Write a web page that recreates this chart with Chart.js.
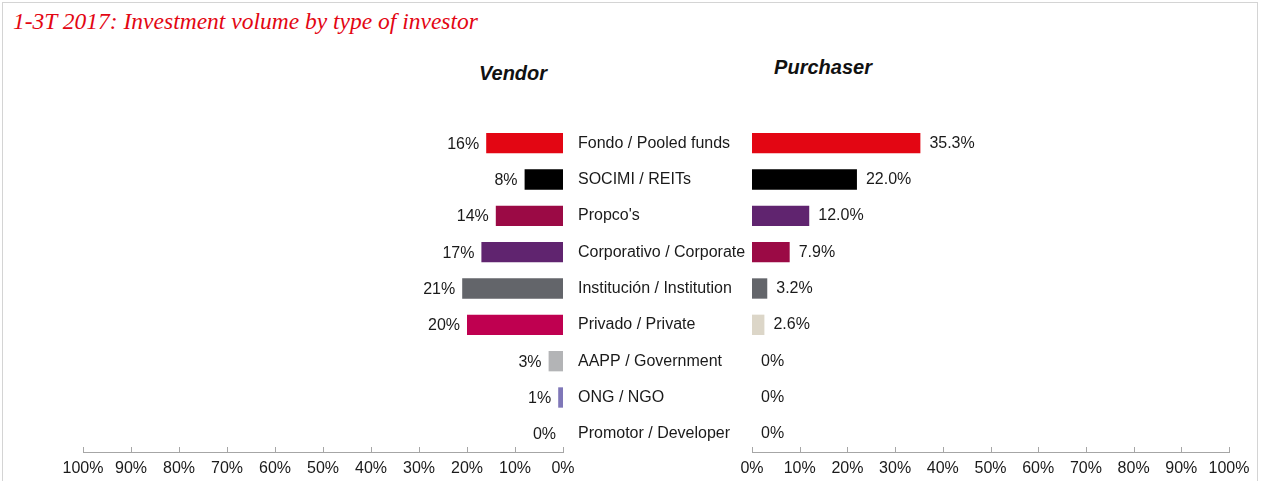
<!DOCTYPE html>
<html>
<head>
<meta charset="utf-8">
<script src="https://cdn.jsdelivr.net/npm/chart.js@4"></script>
<style>
  body { margin: 0; background: #fff; width: 1261px; height: 481px; overflow: hidden; position: relative; font-family: "Liberation Sans", Arial, sans-serif; }
  #frame { position: absolute; left: 2px; top: 2px; width: 1254px; height: 500px; border: 1px solid #d4d4d4; }
  #title { position: absolute; left: 13px; top: 10px; font-family: "Liberation Serif", "Times New Roman", serif; font-style: italic; font-size: 23.5px; color: #e30613; line-height: 1; }
  .side { position: absolute; font-weight: bold; font-style: italic; font-size: 20px; color: #111; line-height: 1; transform: translateX(-50%); }
  #leftWrap { position: absolute; left: 0; top: 0; width: 575px; height: 481px; }
  #rightWrap { position: absolute; left: 578px; top: 0; width: 683px; height: 481px; }
</style>
</head>
<body>
<div id="frame"></div>
<div id="title">1-3T 2017: Investment volume by type of investor</div>
<div class="side" style="left:513px; top:63px;">Vendor</div>
<div class="side" style="left:823px; top:57px;">Purchaser</div>
<div id="leftWrap"><canvas id="vendorChart"></canvas></div>
<div id="rightWrap"><canvas id="purchaserChart"></canvas></div>
<script>
// categories (shared by both sides)
const categories = ['Fondo / Pooled funds', 'SOCIMI / REITs', "Propco's", 'Corporativo / Corporate',
  'Institución / Institution', 'Privado / Private', 'AAPP / Government', 'ONG / NGO', 'Promotor / Developer'];

// share of investment volume, %
const vendorValues = [16, 8, 14, 17, 21, 20, 3, 1, 0];
const purchaserValues = [35.3, 22.0, 12.0, 7.9, 3.2, 2.6, 0, 0, 0];

const vendorColors = ['#e30613', '#000000', '#9b0a45', '#60246f', '#63656a', '#bf0050', '#b3b4b6', '#7f77b8', '#ffffff'];
const purchaserColors = ['#e30613', '#000000', '#60246f', '#9b0a45', '#63656a', '#dcd6c8', '#ffffff', '#ffffff', '#ffffff'];

const tickValues = [0, 10, 20, 30, 40, 50, 60, 70, 80, 90, 100];

const textFont = { family: '"Liberation Sans", Arial, sans-serif', size: 16 };
const textColor = '#1a1a1a';
const axisColor = '#a6a6a6';

// value labels next to each bar
const barLabels = {
  id: 'barLabels',
  afterDatasetsDraw(chart, args, opts) {
    const ctx = chart.ctx;
    const meta = chart.getDatasetMeta(0);
    ctx.save();
    ctx.font = textFont.size + 'px ' + textFont.family;
    ctx.fillStyle = textColor;
    ctx.textBaseline = 'middle';
    meta.data.forEach((bar, i) => {
      const v = chart.data.datasets[0].data[i];
      const txt = opts.format(v);
      if (opts.side === 'left') {
        ctx.textAlign = 'right';
        ctx.fillText(txt, bar.x - 7, bar.y + 1);
      } else {
        ctx.textAlign = 'left';
        ctx.fillText(txt, bar.x + 9, bar.y);
      }
    });
    ctx.restore();
  }
};

// small tick marks pointing up from the x axis line
const innerTicks = {
  id: 'innerTicks',
  afterDraw(chart) {
    const scale = chart.scales.x;
    const ctx = chart.ctx;
    ctx.save();
    ctx.strokeStyle = axisColor;
    ctx.lineWidth = 1;
    tickValues.forEach(v => {
      const x = Math.round(scale.getPixelForValue(v)) + 0.5;
      ctx.beginPath();
      ctx.moveTo(x, scale.top - 5);
      ctx.lineTo(x, scale.top);
      ctx.stroke();
    });
    ctx.restore();
  }
};

function xAxis(reverse) {
  return {
    type: 'linear',
    min: 0,
    max: 100,
    reverse: reverse,
    afterBuildTicks: s => { s.ticks = tickValues.map(v => ({ value: v })); },
    afterFit: s => { s.height = 29; },
    grid: { display: false, drawTicks: false },
    border: { display: true, color: axisColor, width: 1 },
    ticks: {
      padding: 7,
      maxRotation: 0,
      autoSkip: false,
      color: textColor,
      font: textFont,
      callback: v => v + '%'
    }
  };
}

const baseOptions = {
  indexAxis: 'y',
  responsive: true,
  maintainAspectRatio: false,
  animation: false,
  events: [],
  plugins: { legend: { display: false }, tooltip: { enabled: false } }
};

new Chart('vendorChart', {
  type: 'bar',
  data: {
    labels: categories,
    datasets: [{
      data: vendorValues,
      backgroundColor: vendorColors,
      barPercentage: 0.56,
      categoryPercentage: 1
    }]
  },
  options: Object.assign({}, baseOptions, {
    layout: { padding: { left: 83, right: 12, top: 125, bottom: 0 } },
    scales: {
      x: xAxis(true),
      y: { display: false }
    },
    plugins: Object.assign({}, baseOptions.plugins, {
      barLabels: { side: 'left', format: v => v + '%' }
    })
  }),
  plugins: [barLabels, innerTicks]
});

new Chart('purchaserChart', {
  type: 'bar',
  data: {
    labels: categories,
    datasets: [{
      data: purchaserValues,
      backgroundColor: purchaserColors,
      barPercentage: 0.56,
      categoryPercentage: 1
    }]
  },
  options: Object.assign({}, baseOptions, {
    layout: { padding: { left: 0, right: 32, top: 125, bottom: 0 } },
    scales: {
      x: xAxis(false),
      y: {
        afterFit: s => { s.width = 174; },
        grid: { display: false, drawTicks: false },
        border: { display: false },
        ticks: { crossAlign: 'far', padding: 0, color: textColor, font: textFont }
      }
    },
    plugins: Object.assign({}, baseOptions.plugins, {
      barLabels: { side: 'right', format: v => v === 0 ? '0%' : v.toFixed(1) + '%' }
    })
  }),
  plugins: [barLabels, innerTicks]
});
</script>
</body>
</html>
